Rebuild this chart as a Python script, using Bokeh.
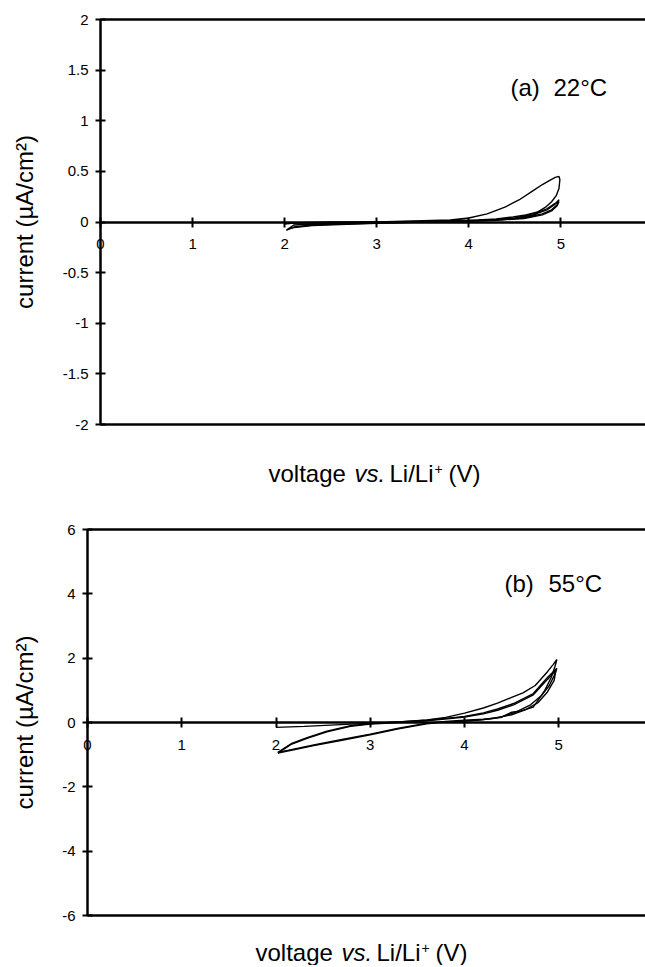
import math
from bokeh.plotting import figure
from bokeh.models import Range1d, LinearAxis, FixedTicker, Label, ColumnDataSource
from bokeh.layouts import column
from bokeh.embed import file_html
from bokeh.resources import INLINE

FONT = "Liberation Sans"

# ---------------- data ----------------
x_ticks = [0, 1, 2, 3, 4, 5]
x_tick_labels = ["0", "1", "2", "3", "4", "5"]

a_y_ticks = [-2, -1.5, -1, -0.5, 0, 0.5, 1, 1.5, 2]
a_y_tick_labels = ["-2", "-1.5", "-1", "-0.5", "0", "0.5", "1", "1.5", "2"]

b_y_ticks = [-6, -4, -2, 0, 2, 4, 6]
b_y_tick_labels = ["-6", "-4", "-2", "0", "2", "4", "6"]

# (a) 22 °C  -- cycle 1 (large loop)
a_c1_v = [2.0, 2.3, 2.6, 3.0, 3.4, 3.8, 4.0, 4.2, 4.4, 4.55, 4.7, 4.8, 4.88, 4.94, 4.98,
          4.99, 4.98, 4.95, 4.9, 4.84, 4.75, 4.62, 4.48, 4.3, 4.1, 3.9, 3.7]
a_c1_i = [-0.01, -0.01, -0.01, 0.0, 0.01, 0.02, 0.04, 0.08, 0.15, 0.22, 0.31, 0.37, 0.41, 0.44, 0.45,
          0.42, 0.33, 0.26, 0.2, 0.15, 0.1, 0.07, 0.05, 0.03, 0.02, 0.015, 0.01]
# (a) cycle 2
a_c2_v = [2.0, 2.1, 2.5, 3.0, 3.5, 4.0, 4.3, 4.5, 4.7, 4.85, 4.93, 4.98,
          4.96, 4.9, 4.8, 4.6, 4.3, 4.0, 3.5, 3.0, 2.6, 2.3, 2.1, 2.05, 2.02]
a_c2_i = [-0.02, -0.01, 0.0, 0.0, 0.005, 0.01, 0.02, 0.035, 0.07, 0.12, 0.17, 0.22,
          0.17, 0.12, 0.08, 0.04, 0.02, 0.01, 0.0, -0.01, -0.02, -0.03, -0.05, -0.07, -0.08]
# (a) cycle 3
a_c3_v = [2.02, 2.1, 2.5, 3.0, 3.5, 4.0, 4.3, 4.5, 4.7, 4.85, 4.93, 4.98,
          4.96, 4.9, 4.8, 4.6, 4.3, 4.0, 3.5, 3.0, 2.6, 2.3, 2.1, 2.05]
a_c3_i = [-0.08, -0.03, -0.01, 0.0, 0.005, 0.012, 0.025, 0.04, 0.08, 0.13, 0.18, 0.2,
          0.16, 0.11, 0.07, 0.035, 0.018, 0.008, 0.0, -0.012, -0.025, -0.035, -0.055, -0.065]

# (b) 55 °C -- cycle 1
b_c1_v = [2.0, 2.3, 2.8, 3.0, 3.3, 3.6, 3.8, 4.0, 4.2, 4.35, 4.5, 4.62, 4.75, 4.88, 4.94, 4.98,
          4.96, 4.92, 4.85, 4.73, 4.6, 4.5, 4.38, 4.2, 4.0, 3.8, 3.6, 3.3, 3.0, 2.7, 2.4, 2.2, 2.02]
b_c1_i = [-0.15, -0.12, -0.05, -0.03, 0.02, 0.08, 0.16, 0.29, 0.45, 0.6, 0.78, 0.92, 1.15, 1.58, 1.8, 1.96,
          1.75, 1.4, 0.99, 0.48, 0.36, 0.32, 0.15, 0.1, 0.07, 0.03, -0.02, -0.18, -0.36, -0.53, -0.7, -0.82, -0.93]
# (b) cycle 2
b_c2_v = [2.02, 2.16, 2.33, 2.54, 2.79, 3.0, 3.3, 3.6, 3.9, 4.0, 4.2, 4.35, 4.52, 4.73, 4.88, 4.98,
          4.95, 4.9, 4.82, 4.7, 4.55, 4.4, 4.2, 4.0, 3.8, 3.6, 3.3, 3.0, 2.7, 2.4, 2.2, 2.02]
b_c2_i = [-0.93, -0.66, -0.47, -0.27, -0.1, -0.03, 0.02, 0.07, 0.16, 0.19, 0.3, 0.42, 0.59, 0.9, 1.4, 1.69,
          1.45, 1.15, 0.85, 0.55, 0.33, 0.18, 0.09, 0.05, 0.02, -0.04, -0.2, -0.38, -0.55, -0.72, -0.84, -0.95]
# (b) cycle 3
b_c3_v = [2.02, 2.16, 2.33, 2.54, 2.79, 3.0, 3.3, 3.6, 3.9, 4.0, 4.2, 4.35, 4.52, 4.73, 4.88, 4.97,
          4.95, 4.88, 4.78, 4.65, 4.5, 4.3, 4.1, 3.9]
b_c3_i = [-0.95, -0.68, -0.49, -0.29, -0.12, -0.05, 0.0, 0.05, 0.14, 0.17, 0.27, 0.38, 0.55, 0.86, 1.34, 1.62,
          1.3, 0.95, 0.62, 0.4, 0.24, 0.12, 0.06, 0.03]

x_title_parts = ["voltage", "vs.", "Li/Li", "+", "(V)"]
y_title = "current (\u00b5A/cm\u00b2)"

# ---------------- layout constants ----------------
W = 645
X_MAX = 5.92


def make_panel(height, border_left, border_top, border_bottom, y_lo, y_hi,
               yticks, ytick_labels, curves, page_top, title_px, tag, temp, tag_px, temp_px, ylab_px):
    frame_w = W - border_left
    frame_h = height - border_top - border_bottom
    xs = frame_w / X_MAX
    ys = frame_h / (y_hi - y_lo)
    x0 = -border_left / xs
    yr_lo = y_lo - border_bottom / ys
    yr_hi = y_hi + border_top / ys

    p = figure(width=W, height=height, output_backend="svg", toolbar_location=None,
               x_range=Range1d(x0, X_MAX), y_range=Range1d(yr_lo, yr_hi),
               x_axis_location=None, y_axis_location=None,
               min_border=0, min_border_left=0, min_border_right=0,
               min_border_top=0, min_border_bottom=0)
    p.outline_line_color = None
    p.grid.visible = False
    p.background_fill_color = "white"
    p.border_fill_color = "white"

    # frame lines top & bottom
    for loc, yv in (("above", y_hi), ("below", y_lo)):
        ax = LinearAxis(ticker=FixedTicker(ticks=[]), major_label_text_font_size="0px",
                        major_tick_out=0, major_tick_in=0, minor_tick_out=0, minor_tick_in=0,
                        axis_line_width=2.5, axis_line_color="black",
                        bounds=(0, X_MAX), fixed_location=yv)
        p.add_layout(ax, loc)

    # x axis through zero
    xa = LinearAxis(ticker=FixedTicker(ticks=x_ticks),
                    major_label_overrides={t: s for t, s in zip(x_ticks, x_tick_labels)},
                    axis_line_width=2.5, axis_line_color="black",
                    major_tick_in=5, major_tick_out=5, major_tick_line_width=2,
                    minor_tick_in=0, minor_tick_out=0,
                    major_label_standoff=12,
                    major_label_text_font=FONT, major_label_text_font_size="15px",
                    major_label_text_color="black",
                    bounds=(0, X_MAX), fixed_location=0)
    p.add_layout(xa, "below")

    ya = LinearAxis(ticker=FixedTicker(ticks=yticks),
                    major_label_overrides={t: s for t, s in zip(yticks, ytick_labels)},
                    axis_line_width=2.5, axis_line_color="black",
                    major_tick_in=5, major_tick_out=5, major_tick_line_width=2,
                    minor_tick_in=0, minor_tick_out=0,
                    major_label_standoff=7,
                    major_label_text_font=FONT, major_label_text_font_size="15px",
                    major_label_text_color="black",
                    bounds=(y_lo, y_hi), fixed_location=0)
    p.add_layout(ya, "left")

    for v, i in curves:
        p.line(x="v", y="i", source=ColumnDataSource(dict(v=v, i=i)),
               line_color="black", line_width=1.4)

    # page pixel -> data helpers
    frame_left = border_left
    frame_top = page_top + border_top

    def dx(px):
        return (px - frame_left) / xs

    def dy(py):
        return y_hi - (py - frame_top) / ys

    # y title (rotated)
    p.add_layout(Label(x=dx(ylab_px), y=(y_lo + y_hi) / 2, text=y_title, angle=math.pi / 2,
                       text_font=FONT, text_font_size="24px", text_color="black",
                       text_baseline="alphabetic", text_align="center"))

    # x title pieces
    (vx, vsx, lix, plx, px_v), base, plus_base = title_px
    specs = [(x_title_parts[0], vx, base, "24px", "normal"),
             (x_title_parts[1], vsx, base, "24px", "italic"),
             (x_title_parts[2], lix, base, "24px", "normal"),
             (x_title_parts[3], plx, plus_base, "14px", "normal"),
             (x_title_parts[4], px_v, base, "24px", "normal")]
    for txt, xp, yp, fs, st in specs:
        p.add_layout(Label(x=dx(xp), y=dy(yp), text=txt, text_font=FONT,
                           text_font_size=fs, text_font_style=st, text_color="black",
                           text_baseline="alphabetic", text_align="left"))
    p.add_layout(Label(x=dx(tag_px[0]), y=dy(tag_px[1]), text=tag, text_font=FONT,
                       text_font_size="24px", text_color="black",
                       text_baseline="alphabetic", text_align="left"))
    p.add_layout(Label(x=dx(temp_px[0]), y=dy(temp_px[1]), text=temp, text_font=FONT,
                       text_font_size="24px", text_color="black",
                       text_baseline="alphabetic", text_align="left"))
    return p


pa = make_panel(500, 100, 19, 76, -2, 2, a_y_ticks, a_y_tick_labels,
                [(a_c1_v, a_c1_i), (a_c2_v, a_c2_i), (a_c3_v, a_c3_i)],
                0, ((268, 354, 389, 434, 448), 473, 468),
                "(a)", "22\u00b0C", (510, 87), (553, 87), 24)

pb = make_panel(465, 87, 29, 50, -6, 6, b_y_ticks, b_y_tick_labels,
                [(b_c1_v, b_c1_i), (b_c2_v, b_c2_i), (b_c3_v, b_c3_i)],
                500, ((255, 341, 376, 421, 435), 952, 947),
                "(b)", "55\u00b0C", (504, 583), (548, 583), 24)

layout = column(pa, pb, spacing=0)

open("out.html", "w").write(file_html(layout, INLINE))
